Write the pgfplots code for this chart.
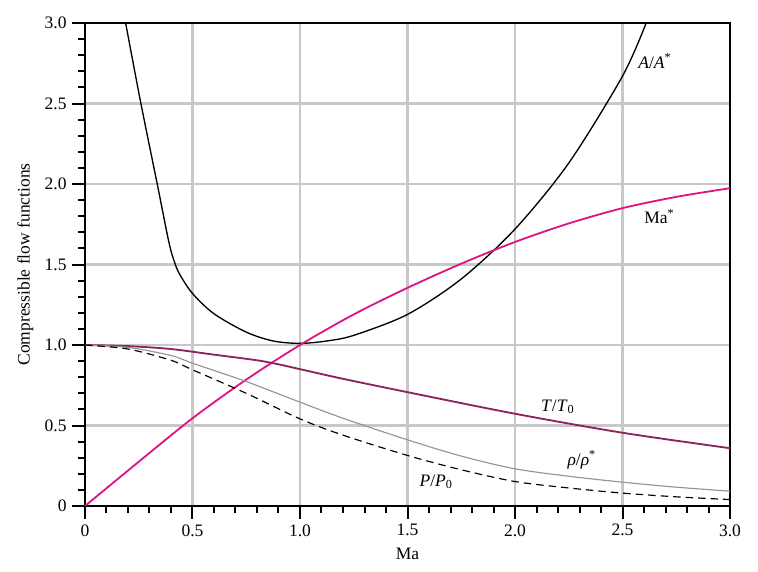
\documentclass[border=0pt]{standalone}
\usepackage{fontspec}
\setmainfont{Liberation Serif}
\usepackage{pgfplots}
\pgfplotsset{compat=1.18}
\definecolor{magc}{RGB}{221,22,132}
\definecolor{maroonc}{RGB}{140,35,90}
\definecolor{gridc}{RGB}{200,200,200}
\definecolor{rhoc}{RGB}{150,150,150}
\begin{document}
\begin{tikzpicture}[x=1pt,y=1pt]
\path[use as bounding box] (-51,-39) rectangle (403.8,303.6);
\begin{axis}[at={(0,0)}, anchor=south west, scale only axis,
  width=387pt, height=289.8pt,
  xmin=0, xmax=3, ymin=0, ymax=3,
  xtick={0,0.5,1,1.5,2,2.5,3}, ytick={0,0.5,1,1.5,2,2.5,3},
  xticklabels={0,0.5,1.0,1.5,2.0,2.5,3.0},
  yticklabels={0,0.5,1.0,1.5,2.0,2.5,3.0},
  minor tick num=4,
  tick align=outside, tick pos=left,
  major tick length=7.5pt, minor tick length=4pt,
  every tick/.style={black, line width=1.2pt},
  grid=major, major grid style={gridc, line width=1.5pt},
  axis line style={black, line width=1.2pt},
  xlabel={Ma}, ylabel={Compressible flow functions},
  /pgf/number format/assume math mode=true,
  tick label style={font=\fontsize{10.5}{12}\selectfont},
  label style={font=\fontsize{10.5}{12}\selectfont},
]
% A/A*
\addplot[black, line width=0.8pt, smooth] coordinates {
(0.189,3.0) (0.26,2.5) (0.336,2.0) (0.39,1.64) (0.415,1.52) (0.44,1.44) (0.5,1.32) (0.6,1.194) (0.75,1.08) (0.875,1.025) (1.0,1.01) (1.125,1.025) (1.25,1.06) (1.5,1.19) (1.75,1.41) (2.0,1.72) (2.25,2.13) (2.5,2.67) (2.61,3.0)};
% Ma*
\addplot[magc, line width=1.1pt, smooth] coordinates {
(0,0) (0.25,0.275) (0.5,0.545) (0.75,0.785) (1.0,1.0) (1.25,1.19) (1.5,1.355) (1.75,1.505) (2.0,1.64) (2.25,1.755) (2.5,1.85) (2.75,1.92) (3.0,1.974)};
% T/T0
\addplot[maroonc, line width=1.1pt, smooth] coordinates {
(0,1.0) (0.2,0.993) (0.4,0.975) (0.6,0.94) (0.8,0.905) (0.9,0.88) (1.0,0.85) (1.2,0.79) (1.5,0.707) (2.0,0.573) (2.5,0.455) (3.0,0.359)};
% rho/rho*
\addplot[rhoc, line width=0.7pt, smooth] coordinates {
(0,1) (0.2,0.985) (0.4,0.935) (0.5,0.887) (0.75,0.773) (1.0,0.645) (1.2,0.545) (1.5,0.411) (1.75,0.31) (2.0,0.231) (2.25,0.185) (2.5,0.148) (2.75,0.117) (3,0.092)};
% P/P0
\addplot[black, line width=0.7pt, dash pattern=on 4.5pt off 3pt, smooth] coordinates {
(0,1) (0.2,0.975) (0.4,0.905) (0.5,0.846) (0.75,0.70) (1.0,0.541) (1.2,0.44) (1.5,0.314) (1.75,0.225) (2.0,0.152) (2.25,0.112) (2.5,0.08) (2.75,0.057) (3,0.04)};
\node[anchor=base west, inner sep=0pt, font=\fontsize{10.5}{12}\selectfont] at (axis cs:2.572,2.72) {\textit{A}/\textit{A}\textsuperscript{*}};
\node[anchor=base west, inner sep=0pt, font=\fontsize{10.5}{12}\selectfont] at (axis cs:2.6,1.753) {Ma\textsuperscript{*}};
\node[anchor=base west, inner sep=0pt, font=\fontsize{10.5}{12}\selectfont] at (axis cs:2.12,0.589) {\textit{T}/\textit{T}\textsubscript{0}};
\node[anchor=base west, inner sep=0pt, font=\fontsize{10.5}{12}\selectfont] at (axis cs:2.243,0.252) {\textit{ρ}/\textit{ρ}\textsuperscript{*}};
\node[anchor=base west, inner sep=0pt, font=\fontsize{10.5}{12}\selectfont] at (axis cs:1.555,0.123) {\textit{P}/\textit{P}\textsubscript{0}};
\end{axis}
\end{tikzpicture}
\end{document}
